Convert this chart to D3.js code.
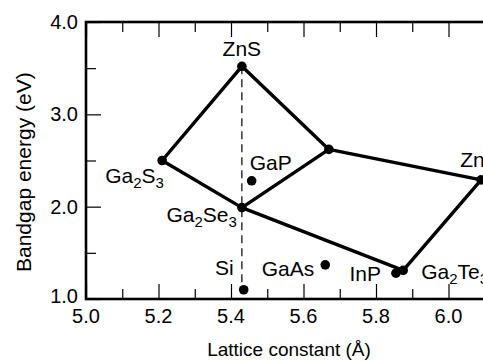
<!DOCTYPE html>
<html>
<head>
<meta charset="utf-8">
<script src="https://cdn.jsdelivr.net/npm/d3@7"></script>
<style>
  html, body { margin: 0; padding: 0; background: #fff; }
  svg { display: block; font-family: "Liberation Sans", Arial, Helvetica, sans-serif; }
</style>
</head>
<body>
<svg id="chart" width="483" height="361"></svg>
<script>
// ---- data ----
const pointNames = ["ZnS", "Ga_2S_3", "GaP", "Ga_2Se_3", "Si", "GaAs", "InP", "Ga_2Te_3", "ZnTe", "node"];
const latticeConst = [5.43, 5.21, 5.457, 5.43, 5.435, 5.66, 5.855, 5.875, 6.09, 5.67];
const bandgap      = [3.52, 2.50, 2.28, 1.99, 1.10, 1.37, 1.28, 1.31, 2.29, 2.62];
const edges = [["ZnS","Ga_2S_3"],["Ga_2S_3","Ga_2Se_3"],["ZnS","node"],["node","Ga_2Se_3"],
               ["node","ZnTe"],["Ga_2Se_3","Ga_2Te_3"],["Ga_2Te_3","ZnTe"]];
const dashedLink = ["ZnS", "Si"];
const xMajorTicks = [5.0, 5.2, 5.4, 5.6, 5.8, 6.0];
const xMinorTicks = [5.1, 5.3, 5.5, 5.7, 5.9, 6.1];
const yMajorTicks = [1.0, 2.0, 3.0, 4.0];
const yMinorTicks = [1.5, 2.5, 3.5];
const xTitle = "Lattice constant (Å)";
const yTitle = "Bandgap energy (eV)";

// ---- layout (label placement, pixels relative to point) ----
const labelLayout = {
  "ZnS":      {dx: 0,   dy: -10, anchor: "middle"},
  "Ga_2S_3":  {dx: -57, dy: 22,  anchor: "start"},
  "GaP":      {dx: -2,  dy: -11, anchor: "start"},
  "Ga_2Se_3": {dx: -5,  dy: 14,  anchor: "end"},
  "Si":       {dx: -10, dy: -15, anchor: "end"},
  "GaAs":     {dx: -11, dy: 11,  anchor: "end"},
  "InP":      {dx: -15, dy: 8,   anchor: "end"},
  "Ga_2Te_3": {dx: 18,  dy: 9,   anchor: "start"},
  "ZnTe":     {dx: -21, dy: -13, anchor: "start"}
};

const svg = d3.select("#chart");
const mLeft = 86, mTop = 22, mBottom = 299, pxPerUnitX = 362.5;
const x = d3.scaleLinear().domain([5.0, 6.2]).range([mLeft, mLeft + 1.2 * pxPerUnitX]);
const y = d3.scaleLinear().domain([1.0, 4.0]).range([mBottom, mTop]);

const pts = pointNames.map((n, i) => ({name: n, x: latticeConst[i], y: bandgap[i]}));
const byName = Object.fromEntries(pts.map(p => [p.name, p]));

// ticks (inward)
function tickAxis(gen, ticks, size, transform) {
  svg.append("g").attr("transform", transform)
    .call(gen.tickValues(ticks).tickSize(-size).tickFormat(""))
    .call(g => g.select(".domain").remove())
    .selectAll("line").attr("stroke", "#000").attr("stroke-width", 1.2);
}
tickAxis(d3.axisBottom(x), xMajorTicks, 15, `translate(0,${mBottom})`);
tickAxis(d3.axisBottom(x), xMinorTicks, 10, `translate(0,${mBottom})`);
tickAxis(d3.axisTop(x), xMajorTicks, 15, `translate(0,${mTop})`);
tickAxis(d3.axisTop(x), xMinorTicks, 10, `translate(0,${mTop})`);
tickAxis(d3.axisLeft(y), yMajorTicks, 15, `translate(${mLeft},0)`);
tickAxis(d3.axisLeft(y), yMinorTicks, 10, `translate(${mLeft},0)`);

// frame
svg.append("rect")
  .attr("x", x(5.0)).attr("y", y(4.0))
  .attr("width", x(6.2) - x(5.0)).attr("height", y(1.0) - y(4.0))
  .attr("fill", "none").attr("stroke", "#000").attr("stroke-width", 2.6);

// tick labels
svg.append("g").selectAll("text").data(xMajorTicks).join("text")
  .attr("x", d => x(d)).attr("y", 323)
  .attr("text-anchor", "middle").attr("font-size", 20)
  .text(d => d.toFixed(1));
svg.append("g").selectAll("text").data(yMajorTicks).join("text")
  .attr("x", 78).attr("y", d => y(d) - (d === 1.0 ? 3 : 0))
  .attr("dy", "0.35em")
  .attr("text-anchor", "end").attr("font-size", 20)
  .text(d => d.toFixed(1));

// axis titles
svg.append("text").attr("x", 289).attr("y", 356)
  .attr("text-anchor", "middle").attr("font-size", 19).text(xTitle);
svg.append("text").attr("transform", `translate(31,272) rotate(-90)`)
  .attr("text-anchor", "start").attr("font-size", 21).text(yTitle);

// dashed line
svg.append("line")
  .attr("x1", x(byName[dashedLink[0]].x)).attr("y1", y(byName[dashedLink[0]].y))
  .attr("x2", x(byName[dashedLink[0]].x)).attr("y2", y(byName[dashedLink[1]].y))
  .attr("stroke", "#000").attr("stroke-width", 1.2).attr("stroke-dasharray", "8,5");

// thick connecting lines
svg.append("g").selectAll("line").data(edges).join("line")
  .attr("x1", d => x(byName[d[0]].x)).attr("y1", d => y(byName[d[0]].y))
  .attr("x2", d => x(byName[d[1]].x)).attr("y2", d => y(byName[d[1]].y))
  .attr("stroke", "#000").attr("stroke-width", 3.4).attr("stroke-linecap", "round");

// dots
svg.append("g").selectAll("circle").data(pts).join("circle")
  .attr("cx", d => x(d.x)).attr("cy", d => y(d.y)).attr("r", 4.8).attr("fill", "#000");

// labels with subscripts
const lab = svg.append("g").selectAll("text").data(pts.filter(p => labelLayout[p.name])).join("text")
  .attr("x", d => x(d.x) + labelLayout[d.name].dx)
  .attr("y", d => y(d.y) + labelLayout[d.name].dy)
  .attr("text-anchor", d => labelLayout[d.name].anchor)
  .attr("font-size", 21);
lab.each(function(d) {
  const t = d3.select(this);
  const parts = d.name.split("_");
  parts.forEach((p, i) => {
    if (i === 0) { t.append("tspan").text(p); return; }
    t.append("tspan").attr("font-size", 15).attr("dy", 5).text(p[0]);
    if (p.length > 1) t.append("tspan").attr("dy", -5).text(p.slice(1));
  });
});
</script>
</body>
</html>
